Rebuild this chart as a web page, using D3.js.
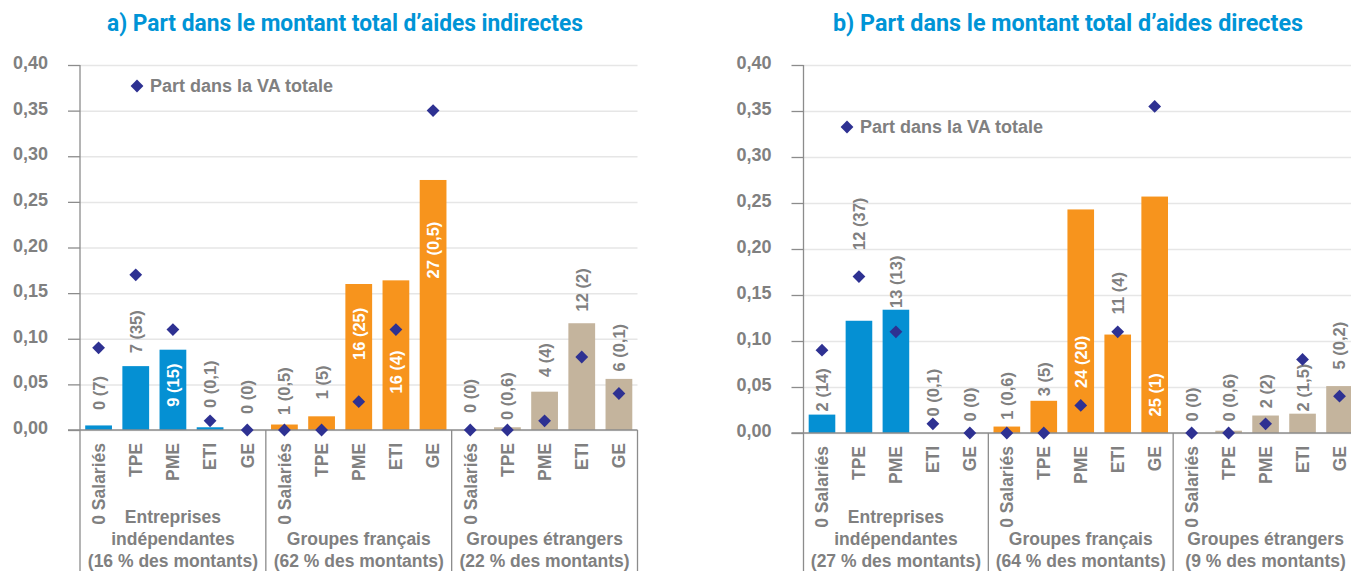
<!DOCTYPE html>
<html>
<head>
<meta charset="utf-8">
<script src="https://cdn.jsdelivr.net/npm/d3@7"></script>
<style>
  body { margin: 0; background: #fff; }
  svg text { font-family: "Liberation Sans", Arial, sans-serif; font-weight: bold; }
</style>
</head>
<body>
<svg id="chart" width="1351" height="571"></svg>
<script>
var categories = ["0 Salariés", "TPE", "PME", "ETI", "GE"];
var yTicks = [0, 0.05, 0.10, 0.15, 0.20, 0.25, 0.30, 0.35, 0.40];

// a) aides indirectes
var groupNamesA = [["Entreprises", "indépendantes", "(16 % des montants)"],
                   ["Groupes français", "(62 % des montants)"],
                   ["Groupes étrangers", "(22 % des montants)"]];
var shareA = [0.005, 0.07, 0.088, 0.003, 0, 0.006, 0.015, 0.16, 0.164, 0.274, 0, 0.003, 0.042, 0.117, 0.056];
var vaA = [0.09, 0.17, 0.11, 0.01, 0, 0, 0, 0.031, 0.11, 0.35, 0, 0, 0.01, 0.08, 0.04];
var labelsA = ["0 (7)", "7 (35)", "9 (15)", "0 (0,1)", "0 (0)", "1 (0,5)", "1 (5)", "16 (25)", "16 (4)", "27 (0,5)",
               "0 (0)", "0 (0,6)", "4 (4)", "12 (2)", "6 (0,1)"];
var labelAtA = [0.022, 0.084, 0.0255, 0.024, 0.0175, 0.0164, 0.0336, 0.0767, 0.040, 0.166, 0.0186, 0.011, 0.058, 0.13, 0.064];

// b) aides directes
var groupNamesB = [["Entreprises", "indépendantes", "(27 % des montants)"],
                   ["Groupes français", "(64 % des montants)"],
                   ["Groupes étrangers", "(9 % des montants)"]];
var shareB = [0.02, 0.122, 0.134, 0, 0, 0.007, 0.035, 0.243, 0.107, 0.257, 0, 0.0025, 0.019, 0.021, 0.051];
var vaB = [0.09, 0.17, 0.11, 0.01, 0, 0, 0, 0.03, 0.11, 0.355, 0, 0, 0.01, 0.08, 0.04];
var labelsB = ["2 (14)", "12 (37)", "13 (13)", "0 (0,1)", "0 (0)", "1 (0,6)", "3 (5)", "24 (20)", "11 (4)", "25 (1)",
               "0 (0)", "0 (0,6)", "2 (2)", "2 (1,5)", "5 (0,2)"];
var labelAtB = [0.0235, 0.199, 0.136, 0.018, 0.0126, 0.0145, 0.040, 0.049, 0.129, 0.018, 0.0126, 0.0126, 0.027, 0.0235, 0.069];

var groupColors = ["#0590d3", "#f7941d", "#c4b49d"];
var grey = "#808080";
var navy = "#2e3192";

var svg = d3.select("#chart");

function drawPanel(p) {
  var n = p.share.length;
  var keys = d3.range(n);
  var g = svg.append("g");

  var x = d3.scaleBand()
      .domain(keys)
      .range([p.x0, p.x1])
      .paddingInner(0.28)
      .paddingOuter(0.14);

  var y = d3.scaleLinear()
      .domain([0, 0.40])
      .range([p.yBottom, p.yTop]);

  var fmt = function(d) { return d3.format(".2f")(d).replace(".", ","); };

  // gridlines
  g.append("g")
      .attr("transform", "translate(" + p.x0 + ",0)")
      .call(d3.axisLeft(y).tickValues(yTicks).tickSize(-(p.x1 - p.x0)).tickFormat(""))
      .call(function(s) {
        s.select(".domain").remove();
        s.selectAll("line").attr("stroke", "#e6e6e6").attr("stroke-width", 1.5);
      });

  // y axis with labels
  g.append("g")
      .attr("transform", "translate(" + p.x0 + ",0)")
      .call(d3.axisLeft(y).tickValues(yTicks).tickSize(12).tickPadding(20).tickFormat(fmt))
      .call(function(s) {
        s.select(".domain").remove();
        s.selectAll("line").attr("stroke", "#8c8c8c").attr("stroke-width", 1.3);
        s.selectAll("text")
            .attr("fill", grey)
            .attr("dy", "0.2em")
            .style("font-size", "18px");
      });

  // bars
  g.selectAll(".bar")
    .data(keys)
    .enter().append("rect")
      .attr("class", "bar")
      .attr("x", function(i) { return x(i); })
      .attr("width", x.bandwidth())
      .attr("y", function(i) { return y(p.share[i]); })
      .attr("height", function(i) { return y(0) - y(p.share[i]); })
      .attr("fill", function(i) { return groupColors[Math.floor(i / 5)]; });

  // axis lines and group separators
  var step = x.step();
  g.append("line")
      .attr("x1", p.x0 - 12).attr("x2", p.x1)
      .attr("y1", y(0)).attr("y2", y(0))
      .attr("stroke", "#8c8c8c").attr("stroke-width", 1.3);
  g.append("line")
      .attr("x1", p.x0).attr("x2", p.x0)
      .attr("y1", y(0.40)).attr("y2", 571)
      .attr("stroke", "#8c8c8c").attr("stroke-width", 1.3);
  g.selectAll(".sep")
    .data([1, 2, 3])
    .enter().append("line")
      .attr("class", "sep")
      .attr("x1", function(k) { return p.x0 + k * 5 * step; })
      .attr("x2", function(k) { return p.x0 + k * 5 * step; })
      .attr("y1", y(0)).attr("y2", 571)
      .attr("stroke", "#8c8c8c").attr("stroke-width", 1.3);

  // value labels
  g.selectAll(".vlab")
    .data(keys)
    .enter().append("text")
      .attr("class", "vlab")
      .attr("transform", function(i) {
        return "translate(" + (x(i) + x.bandwidth() / 2) + "," + y(p.labelAt[i]) + ") rotate(-90)";
      })
      .attr("dy", "0.36em")
      .attr("fill", function(i) { return p.labelAt[i] < p.share[i] ? "#fff" : grey; })
      .style("font-size", "16.5px")
      .text(function(i) { return p.labels[i]; });

  // diamonds
  g.selectAll(".va")
    .data(keys)
    .enter().append("path")
      .attr("class", "va")
      .attr("d", d3.symbol(d3.symbolSquare, 82))
      .attr("transform", function(i) {
        return "translate(" + (x(i) + x.bandwidth() / 2) + "," + y(p.va[i]) + ") rotate(45)";
      })
      .attr("fill", navy);

  // category labels
  g.selectAll(".cat")
    .data(keys)
    .enter().append("text")
      .attr("class", "cat")
      .attr("transform", function(i) {
        return "translate(" + (x(i) + x.bandwidth() / 2) + "," + (y(0) + 13) + ") rotate(-90)";
      })
      .attr("dy", "0.36em")
      .attr("text-anchor", "end")
      .attr("fill", grey)
      .style("font-size", "17.5px")
      .text(function(i) { return categories[i % 5]; });

  // group labels (bottom aligned)
  p.groups.forEach(function(lines, k) {
    var cx = p.x0 + (k * 5 + 2.5) * step;
    var t = g.append("text")
        .attr("text-anchor", "middle")
        .attr("fill", grey)
        .style("font-size", "17.5px");
    lines.forEach(function(line, j) {
      t.append("tspan")
          .attr("x", cx)
          .attr("y", 567 - (lines.length - 1 - j) * 22)
          .text(line);
    });
  });

  // legend
  g.append("path")
      .attr("d", d3.symbol(d3.symbolSquare, 82))
      .attr("transform", "translate(" + p.legendX + "," + p.legendY + ") rotate(45)")
      .attr("fill", navy);
  g.append("text")
      .attr("x", p.legendX + 13)
      .attr("y", p.legendY)
      .attr("dy", "0.36em")
      .attr("fill", grey)
      .style("font-size", "18px")
      .text("Part dans la VA totale");

  // title
  g.append("text")
      .attr("x", p.titleX)
      .attr("y", 31)
      .attr("text-anchor", "middle")
      .attr("fill", "#0094d6")
      .attr("textLength", p.titleW)
      .attr("lengthAdjust", "spacingAndGlyphs")
      .style("font-family", "Roboto, sans-serif")
      .style("font-size", "24px")
      .text(p.title);
}

drawPanel({
  title: "a) Part dans le montant total d’aides indirectes",
  titleX: 345, titleW: 476,
  x0: 80, x1: 637.5, yTop: 65, yBottom: 430,
  share: shareA, va: vaA, labels: labelsA, labelAt: labelAtA, groups: groupNamesA,
  legendX: 137, legendY: 86
});

drawPanel({
  title: "b) Part dans le montant total d’aides directes",
  titleX: 1068, titleW: 470,
  x0: 803.5, x1: 1358, yTop: 65, yBottom: 433,
  share: shareB, va: vaB, labels: labelsB, labelAt: labelAtB, groups: groupNamesB,
  legendX: 847, legendY: 127
});
</script>
</body>
</html>
